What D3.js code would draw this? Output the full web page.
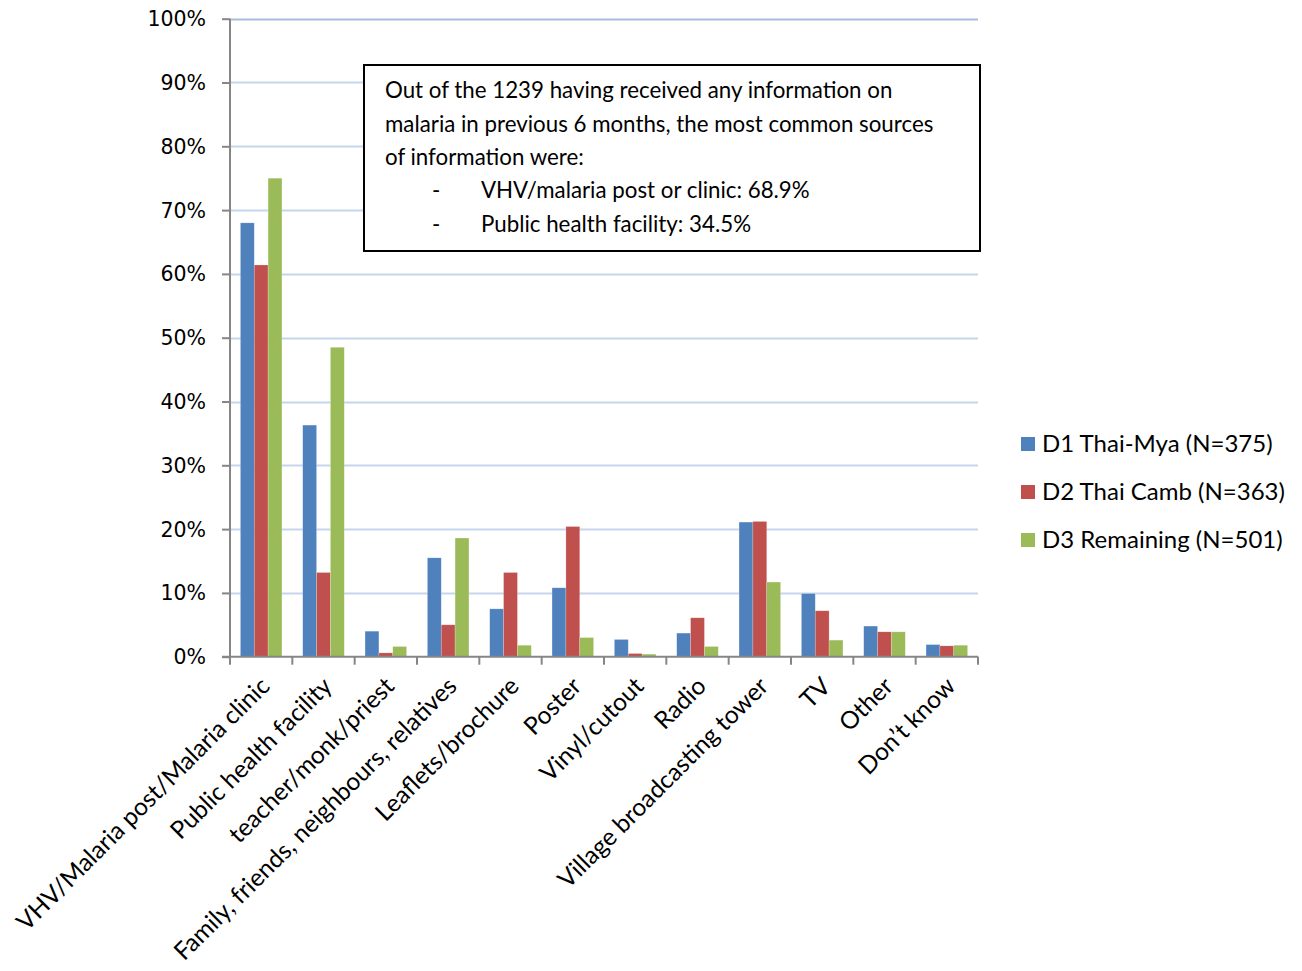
<!DOCTYPE html>
<html><head><meta charset="utf-8">
<script src="https://cdn.jsdelivr.net/npm/d3@7/dist/d3.min.js"></script>
<style>body{margin:0;background:#fff}svg{display:block}</style>
</head><body>
<script>
const categories = ["VHV/Malaria post/Malaria clinic","Public health facility","teacher/monk/priest","Family, friends, neighbours, relatives","Leaflets/brochure","Poster","Vinyl/cutout","Radio","Village broadcasting tower","TV","Other","Don\u2019t know"];
const seriesNames = ["D1 Thai-Mya (N=375)","D2 Thai Camb (N=363)","D3 Remaining (N=501)"];
const d1 = [68.0,36.3,4.0,15.5,7.5,10.8,2.7,3.7,21.1,9.9,4.8,1.9];
const d2 = [61.4,13.2,0.6,5.0,13.2,20.4,0.5,6.1,21.2,7.2,3.9,1.7];
const d3v = [75.0,48.5,1.6,18.6,1.8,3.0,0.4,1.6,11.7,2.6,3.9,1.8];
const yTicks = [0,10,20,30,40,50,60,70,80,90,100];
const noteLines = ["Out of the 1239 having received any information on","malaria in previous 6 months, the most common sources","of information were:"];
const noteBullets = ["VHV/malaria post or clinic: 68.9%","Public health facility: 34.5%"];
const colors = ["#4f81bd","#c0504d","#9bbb59"];

const W=1302,H=971;
const svg=d3.select("body").append("svg").attr("width",W).attr("height",H);
const L=230,R=978,T=18.7,B=656.7;
const x=d3.scaleBand().domain(categories).range([L,R]).paddingInner(0).paddingOuter(0);
const y=d3.scaleLinear().domain([0,100]).range([B,T]);
const series=[d1,d2,d3v];
const bw=x.bandwidth()/4.5;
const xs=d3.scaleBand().domain([0,1,2]).range([0,bw*3]);
const FONT="Lato, 'Open Sans', sans-serif";

// gridlines
svg.append("g").selectAll("line").data(yTicks.filter(d=>d>0)).join("line")
 .attr("x1",L).attr("x2",R).attr("y1",d=>Math.round(y(d))+0.5).attr("y2",d=>Math.round(y(d))+0.5)
 .attr("stroke",d=>d===100?"#a7bde0":"#c6d5ec").attr("stroke-width",2);

// bars
series.forEach((s,i)=>{
 svg.append("g").selectAll("rect").data(s).join("rect")
  .attr("x",(d,j)=>x(categories[j])+bw*0.75+xs(i))
  .attr("y",d=>y(d)).attr("width",xs.bandwidth()).attr("height",d=>B-y(d))
  .attr("fill",colors[i]).attr("stroke","rgba(255,255,255,0.35)").attr("stroke-width",0.6);
});

// y axis
const ya=svg.append("g").attr("transform",`translate(${L},0)`)
 .call(d3.axisLeft(y).tickValues(yTicks).tickSize(8).tickFormat(d=>d+"%"));
ya.select(".domain").attr("stroke","#868686").attr("stroke-width",2).attr("d",`M0,${T}V${B}`);
ya.selectAll(".tick line").attr("stroke","#868686").attr("stroke-width",2);
ya.selectAll(".tick text").attr("font-family","DejaVu Sans, Verdana, sans-serif").attr("font-size",20.5).attr("fill","#000").attr("x",-24).attr("dy","0.34em");

// x axis
const xa=svg.append("g").attr("transform",`translate(0,${B})`);
xa.append("line").attr("x1",L-8).attr("x2",R).attr("y1",0).attr("y2",0).attr("stroke","#868686").attr("stroke-width",2);
const bounds=categories.map(c=>x(c)).concat([R]);
xa.selectAll("line.t").data(bounds).join("line").attr("class","t")
 .attr("x1",d=>d).attr("x2",d=>d).attr("y1",0).attr("y2",8).attr("stroke","#868686").attr("stroke-width",2);
xa.selectAll("text").data(categories).join("text")
 .attr("transform",d=>`translate(${x(d)+x.bandwidth()/2+10},${31}) rotate(-45)`)
 .attr("text-anchor","end").attr("font-family",FONT).attr("font-size",24.5).attr("fill","#000")
 .text(d=>d);

// note box
const nb=svg.append("g");
nb.append("rect").attr("x",364).attr("y",65).attr("width",616).attr("height",186).attr("fill","#fff").attr("stroke","#000").attr("stroke-width",2);
noteLines.forEach((t,i)=>nb.append("text").attr("x",385).attr("y",98+i*33.5).attr("font-family",FONT).attr("font-size",22.3).attr("fill","#000").text(t));
noteBullets.forEach((t,i)=>{
 nb.append("text").attr("x",432).attr("y",198+i*33.5).attr("font-family",FONT).attr("font-size",22.3).text("-");
 nb.append("text").attr("x",481).attr("y",198+i*33.5).attr("font-family",FONT).attr("font-size",22.3).attr("fill","#000").text(t);
});

// legend
const lg=svg.append("g");
seriesNames.forEach((n,i)=>{
 const cy=444+i*48;
 lg.append("rect").attr("x",1021).attr("y",cy-7).attr("width",14).attr("height",14).attr("fill",colors[i]);
 lg.append("text").attr("x",1042).attr("y",cy).attr("dy","0.35em").attr("font-family",FONT).attr("font-size",24).attr("fill","#000").text(n);
});
</script>
</body></html>
